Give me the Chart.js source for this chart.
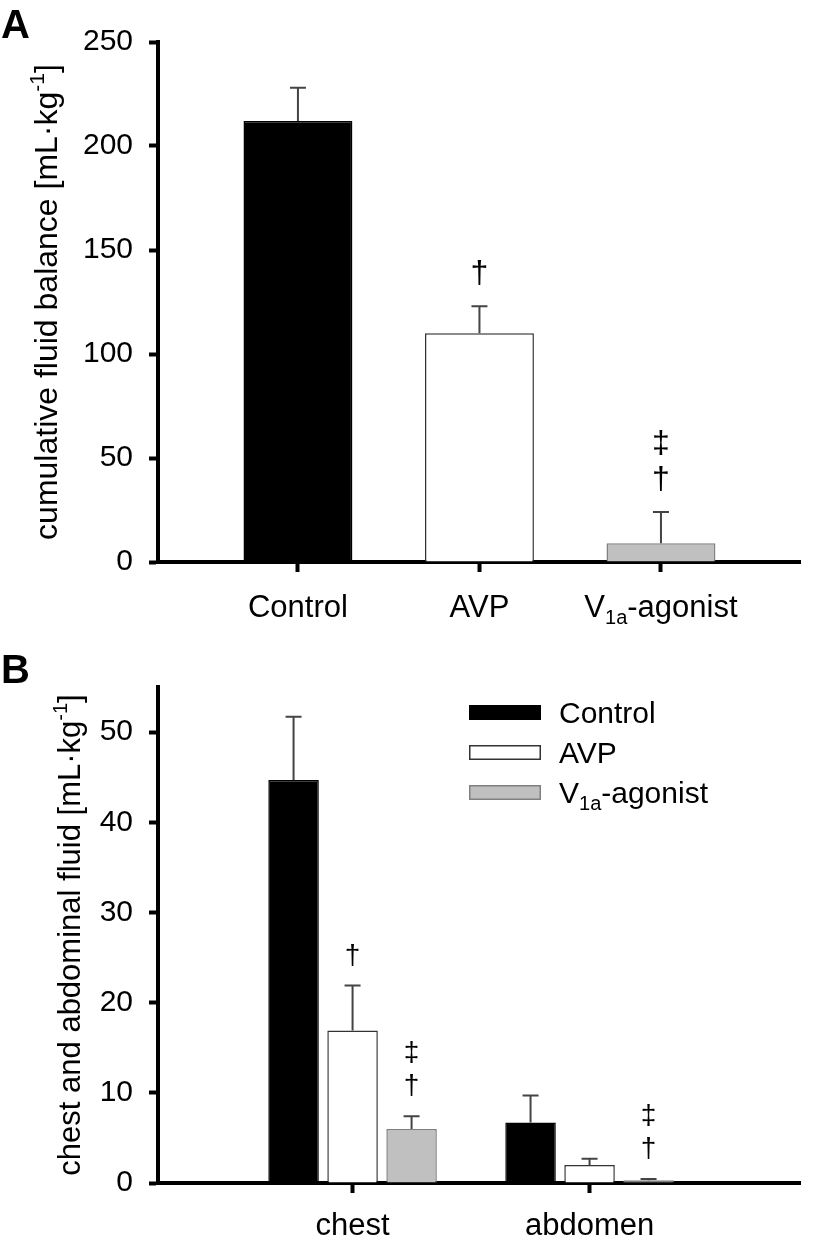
<!DOCTYPE html>
<html>
<head>
<meta charset="utf-8">
<script src="https://cdn.jsdelivr.net/npm/chart.js@4.4.1/dist/chart.umd.min.js"></script>
<style>
  body { margin: 0; background: #fff; }
  canvas { display: block; }
</style>
</head>
<body>
<canvas id="chart-a" width="815" height="630"></canvas>
<canvas id="chart-b" width="815" height="615"></canvas>
<script>
// Panel A - cumulative fluid balance
const groupsA = ['Control', 'AVP', 'V_{1a}-agonist'];
const balance = [212, 110, 9];
const balanceErr = [16, 13, 15];
const balanceMarks = [[], ['†'], ['†', '‡']];
const ticksA = [0, 50, 100, 150, 200, 250];

// Panel B - chest and abdominal fluid
const sites = ['chest', 'abdomen'];
const seriesNames = ['Control', 'AVP', 'V_{1a}-agonist'];
const controlFluid = [44.7, 6.7];
const controlErr = [7.0, 3.0];
const avpFluid = [16.9, 2.0];
const avpErr = [5.0, 0.7];
const v1aFluid = [6.0, 0.3];
const v1aErr = [1.4, 0.15];
const controlMarks = [[], []];
const avpMarks = [['†'], []];
const v1aMarks = [['†', '‡'], ['†', '‡']];
const ticksB = [0, 10, 20, 30, 40, 50];

const fills = ['#000000', '#ffffff', '#c0c0c0'];
const borders = ['#000000', '#333333', '#808080'];

const FONT = "'Liberation Sans', Arial, sans-serif";

// 'V_{1a}-agonist' -> normal / sub / sup pieces
function parseRich(s) {
    const parts = [];
    const re = /([_^])\{([^}]*)\}/g;
    let last = 0, m;
    while ((m = re.exec(s))) {
        if (m.index > last) parts.push({ t: s.slice(last, m.index), m: '' });
        parts.push({ t: m[2], m: m[1] === '_' ? 'sub' : 'sup' });
        last = re.lastIndex;
    }
    if (last < s.length) parts.push({ t: s.slice(last), m: '' });
    return parts;
}

// draws text with sub/superscripts
function drawRich(ctx, text, x, y, size, align) {
    const parts = parseRich(text);
    const fontFor = p => (p.m ? Math.round(size * 0.65) : size) + 'px ' + FONT;
    let w = 0;
    parts.forEach(p => { ctx.font = fontFor(p); p.w = ctx.measureText(p.t).width; w += p.w; });
    let cx = align === 'center' ? x - w / 2 : x;
    ctx.textAlign = 'left';
    ctx.textBaseline = 'alphabetic';
    parts.forEach(p => {
        ctx.font = fontFor(p);
        const dy = p.m === 'sub' ? size * 0.22 : (p.m === 'sup' ? -size * 0.42 : 0);
        ctx.fillText(p.t, cx, y + dy);
        cx += p.w;
    });
}

function decor(cfg) {
    return {
        id: 'decor',
        afterDatasetsDraw(chart) {
            const ctx = chart.ctx;
            const ys = chart.scales.y, xs = chart.scales.x;
            const area = chart.chartArea;
            ctx.save();
            // error bars + significance marks
            chart.data.datasets.forEach((ds, di) => {
                chart.getDatasetMeta(di).data.forEach((bar, i) => {
                    const top = ys.getPixelForValue(ds.data[i].y + ds.errors[i]);
                    ctx.strokeStyle = '#444';
                    ctx.lineWidth = 2;
                    ctx.beginPath();
                    ctx.moveTo(bar.x, bar.y);
                    ctx.lineTo(bar.x, top);
                    ctx.moveTo(bar.x - 8, top);
                    ctx.lineTo(bar.x + 8, top);
                    ctx.stroke();
                    let base = top - cfg.markGap;
                    ctx.fillStyle = '#000';
                    ctx.font = cfg.markSize + 'px ' + FONT;
                    ctx.textAlign = 'center';
                    ctx.textBaseline = 'alphabetic';
                    (ds.marks[i] || []).forEach(m => {
                        const mt = ctx.measureText(m);
                        ctx.fillText(m, bar.x, base - mt.actualBoundingBoxDescent);
                        base -= mt.actualBoundingBoxDescent + mt.actualBoundingBoxAscent + cfg.markSpace;
                    });
                });
            });
            ctx.fillStyle = '#000';
            // category labels
            cfg.labels.forEach((l, i) => {
                drawRich(ctx, l, xs.getPixelForValue(i + 1), cfg.labelY, 31, 'center');
            });
            // y title
            ctx.save();
            ctx.translate(cfg.titleX, (area.top + area.bottom) / 2);
            ctx.rotate(-Math.PI / 2);
            drawRich(ctx, cfg.title, 0, 0, cfg.titleSize, 'center');
            ctx.restore();
            // panel letter
            ctx.font = 'bold 40px ' + FONT;
            ctx.textAlign = 'left';
            ctx.fillText(cfg.letter, 1, cfg.letterY);
            // legend
            if (cfg.legend) {
                chart.data.datasets.forEach((ds, di) => {
                    const cy = cfg.legend.y + di * cfg.legend.step;
                    ctx.fillStyle = ds.backgroundColor;
                    ctx.fillRect(cfg.legend.x, cy - 7.5, 72, 15);
                    ctx.strokeStyle = ds.borderColor;
                    ctx.lineWidth = 1.5;
                    ctx.strokeRect(cfg.legend.x + 0.75, cy - 6.75, 70.5, 13.5);
                    ctx.fillStyle = '#000';
                    drawRich(ctx, cfg.legend.names[di], cfg.legend.x + 90, cy + 10.5, 30, 'left');
                });
            }
            ctx.restore();
        }
    };
}

function axisScales(xMin, xMax, xCount, yMax, yTicks, xHeight) {
    return {
        x: {
            type: 'linear', min: xMin, max: xMax, z: 1, offset: false,
            afterBuildTicks: s => { s.ticks = Array.from({ length: xCount }, (_, i) => ({ value: i + 1 })); },
            afterFit: s => { s.height = xHeight; },
            ticks: { display: false },
            grid: { offset: false, drawOnChartArea: false, tickLength: 10, tickWidth: 4, tickColor: '#000' },
            border: { width: 4, color: '#000' }
        },
        y: {
            min: 0, max: yMax, z: 1,
            afterBuildTicks: s => { s.ticks = yTicks.map(v => ({ value: v })); },
            afterFit: s => { s.width = 158; },
            ticks: { color: '#000', font: { size: 30, family: FONT }, padding: 16 },
            grid: { drawOnChartArea: false, tickLength: 9, tickWidth: 4, tickColor: '#000' },
            border: { width: 4, color: '#000' }
        }
    };
}

// Panel A chart
new Chart(document.getElementById('chart-a'), {
    type: 'bar',
    data: {
        datasets: [{
            label: 'cumulative fluid balance',
            data: groupsA.map((g, i) => ({ x: i + 1, y: balance[i] })),
            errors: balanceErr,
            marks: balanceMarks,
            backgroundColor: fills,
            borderColor: borders,
            borderWidth: 1.5,
            categoryPercentage: 1,
            barPercentage: 0.6
        }]
    },
    options: {
        responsive: false,
        animation: false,
        layout: { padding: { top: 42, right: 15 } },
        plugins: { legend: { display: false }, tooltip: { enabled: false } },
        scales: axisScales(0.229, 3.766, groupsA.length, 250, ticksA, 68)
    },
    plugins: [decor({
        labels: groupsA, labelY: 617,
        title: 'cumulative fluid balance [mL·kg^{-1}]', titleX: 57, titleSize: 32,
        letter: 'A', letterY: 38,
        markGap: 21, markSize: 32, markSpace: 11
    })]
});

// Panel B chart
const fluidSeries = [
    { vals: controlFluid, err: controlErr, marks: controlMarks },
    { vals: avpFluid, err: avpErr, marks: avpMarks },
    { vals: v1aFluid, err: v1aErr, marks: v1aMarks }
];
new Chart(document.getElementById('chart-b'), {
    type: 'bar',
    data: {
        datasets: fluidSeries.map((s, k) => ({
            label: seriesNames[k],
            data: sites.map((site, i) => ({ x: i + 1, y: s.vals[i] })),
            errors: s.err,
            marks: s.marks,
            backgroundColor: fills[k],
            borderColor: borders[k],
            borderWidth: 1.5,
            categoryPercentage: 0.747,
            barPercentage: 0.856
        }))
    },
    options: {
        responsive: false,
        animation: false,
        layout: { padding: { top: 57, right: 15 } },
        plugins: { legend: { display: false }, tooltip: { enabled: false } },
        scales: axisScales(0.179, 2.888, sites.length, 55, ticksB, 62)
    },
    plugins: [decor({
        labels: sites, labelY: 605,
        title: 'chest and abdominal fluid [mL·kg^{-1}]', titleX: 80, titleSize: 31,
        letter: 'B', letterY: 53,
        markGap: 20, markSize: 28, markSpace: 11,
        legend: { x: 469, y: 82.5, step: 40, names: seriesNames }
    })]
});
</script>
</body>
</html>
